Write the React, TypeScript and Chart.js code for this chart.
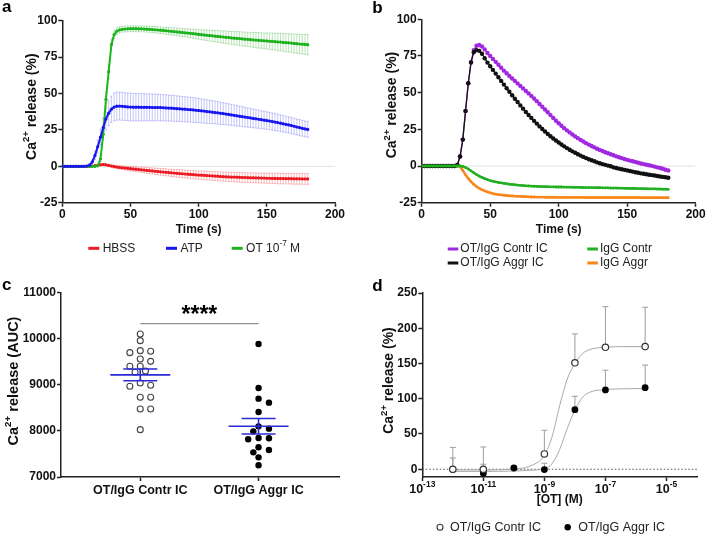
import React, { useEffect, useRef } from "react";
import { Chart, registerables } from "chart.js";

Chart.register(...registerables);

const FONT = "'Liberation Sans', Arial, Helvetica, sans-serif";
Chart.defaults.font.family = FONT;
Chart.defaults.color = "#111";

// ---------------- DATA ----------------
// Panels a & b: time axis (s)
const timeS = [
  0, 2, 4, 6, 8, 10, 12, 14, 16, 18,
  20, 22, 24, 26, 28, 30, 32, 34, 36, 38,
  40, 42, 44, 46, 48, 50, 52, 54, 56, 58,
  60, 62, 64, 66, 68, 70, 72, 74, 76, 78,
  80, 82, 84, 86, 88, 90, 92, 94, 96, 98,
  100, 102, 104, 106, 108, 110, 112, 114, 116, 118,
  120, 122, 124, 126, 128, 130, 132, 134, 136, 138,
  140, 142, 144, 146, 148, 150, 152, 154, 156, 158,
  160, 162, 164, 166, 168, 170, 172, 174, 176, 178,
  180,
];

const seriesNamesA = ["HBSS", "ATP", "OT 10-7 M"];

const hbss = [
  0, 0, 0, 0, 0, 0, 0, 0, 0, 0,
  0.1, 0.2, 0.4, 0.7, 1.0, 1.2, 1.0, 0.6, 0.2, -0.2,
  -0.5, -0.8, -1.0, -1.2, -1.4, -1.6, -1.8, -2.0, -2.2, -2.4,
  -2.6, -2.8, -3.0, -3.2, -3.4, -3.6, -3.8, -3.9, -4.1, -4.3,
  -4.5, -4.6, -4.8, -5.0, -5.1, -5.3, -5.4, -5.6, -5.7, -5.9,
  -6.0, -6.1, -6.2, -6.4, -6.5, -6.6, -6.7, -6.8, -7.0, -7.1,
  -7.2, -7.3, -7.4, -7.4, -7.5, -7.6, -7.7, -7.7, -7.8, -7.9,
  -7.9, -8.0, -8.0, -8.1, -8.1, -8.2, -8.2, -8.3, -8.3, -8.4,
  -8.4, -8.4, -8.5, -8.5, -8.5, -8.6, -8.6, -8.6, -8.7, -8.7,
  -8.7,
];
const hbssSem = [
  0.3, 0.3, 0.3, 0.3, 0.3, 0.3, 0.3, 0.3, 0.3, 0.3,
  0.3, 0.3, 0.4, 0.5, 0.6, 0.6, 0.7, 0.8, 0.9, 1.0,
  1.0, 1.1, 1.2, 1.3, 1.4, 1.5, 1.6, 1.7, 1.7, 1.8,
  1.9, 2.0, 2.0, 2.1, 2.2, 2.2, 2.3, 2.3, 2.4, 2.4,
  2.5, 2.5, 2.6, 2.6, 2.7, 2.7, 2.7, 2.8, 2.8, 2.8,
  2.9, 2.9, 2.9, 3.0, 3.0, 3.0, 3.0, 3.1, 3.1, 3.1,
  3.1, 3.2, 3.2, 3.2, 3.2, 3.3, 3.3, 3.3, 3.3, 3.4,
  3.4, 3.4, 3.4, 3.4, 3.5, 3.5, 3.5, 3.5, 3.5, 3.6,
  3.6, 3.6, 3.6, 3.6, 3.7, 3.7, 3.7, 3.7, 3.7, 3.7,
  3.7,
];
const atp = [
  0, 0, 0, 0, 0, 0, 0, 0, 0, 0.2,
  0.8, 3.0, 7.5, 13.5, 20.0, 26.5, 32.5, 36.5, 39.2, 40.7,
  41.3, 41.4, 41.2, 41.0, 40.8, 40.7, 40.6, 40.6, 40.6, 40.5,
  40.5, 40.5, 40.5, 40.4, 40.4, 40.4, 40.3, 40.2, 40.1, 40.0,
  39.9, 39.8, 39.6, 39.5, 39.3, 39.2, 39.0, 38.9, 38.7, 38.5,
  38.3, 38.1, 37.9, 37.6, 37.4, 37.2, 36.9, 36.7, 36.4, 36.2,
  35.9, 35.6, 35.3, 35.0, 34.7, 34.4, 34.1, 33.8, 33.5, 33.2,
  32.9, 32.6, 32.3, 32.0, 31.7, 31.4, 31.1, 30.7, 30.4, 30.0,
  29.6, 29.2, 28.8, 28.4, 28.0, 27.5, 27.0, 26.6, 26.1, 25.7,
  25.3,
];
const atpSem = [
  0.3, 0.3, 0.3, 0.3, 0.3, 0.3, 0.3, 0.3, 0.3, 0.5,
  1.0, 2.0, 3.0, 4.5, 5.5, 6.5, 7.5, 8.5, 9.0, 9.5,
  9.6, 9.6, 9.6, 9.5, 9.5, 9.5, 9.5, 9.4, 9.4, 9.4,
  9.3, 9.3, 9.3, 9.2, 9.2, 9.1, 9.1, 9.0, 9.0, 8.9,
  8.9, 8.8, 8.8, 8.7, 8.7, 8.6, 8.6, 8.5, 8.5, 8.4,
  8.4, 8.3, 8.2, 8.1, 8.0, 7.9, 7.8, 7.7, 7.6, 7.5,
  7.4, 7.3, 7.2, 7.1, 7.0, 6.9, 6.8, 6.7, 6.6, 6.5,
  6.4, 6.3, 6.2, 6.1, 6.0, 6.0, 5.9, 5.9, 5.8, 5.8,
  5.7, 5.7, 5.6, 5.6, 5.6, 5.5, 5.5, 5.5, 5.4, 5.4,
  5.4,
];
const ot = [
  0, 0, 0, 0, 0, 0, 0, 0, 0, 0,
  0, 0, 0, 0.3, 5.0, 22.0, 46.0, 65.0, 83.5, 90.5,
  92.8, 93.7, 94.1, 94.3, 94.4, 94.5, 94.5, 94.5, 94.4, 94.4,
  94.3, 94.2, 94.1, 93.9, 93.8, 93.6, 93.5, 93.3, 93.1, 92.9,
  92.7, 92.5, 92.3, 92.1, 91.9, 91.7, 91.5, 91.3, 91.1, 90.9,
  90.6, 90.4, 90.2, 90.0, 89.8, 89.6, 89.4, 89.2, 89.0, 88.8,
  88.6, 88.4, 88.2, 88.0, 87.9, 87.7, 87.5, 87.3, 87.2, 87.0,
  86.8, 86.7, 86.5, 86.4, 86.2, 86.1, 85.9, 85.8, 85.6, 85.4,
  85.3, 85.1, 84.9, 84.8, 84.6, 84.4, 84.2, 84.0, 83.9, 83.7,
  83.5,
];
const otSem = [
  0.3, 0.3, 0.3, 0.3, 0.3, 0.3, 0.3, 0.3, 0.3, 0.3,
  0.3, 0.3, 0.3, 0.5, 2.0, 4.0, 5.0, 5.0, 4.0, 3.0,
  2.5, 2.2, 2.0, 2.0, 2.0, 2.0, 2.0, 2.0, 2.0, 2.0,
  2.0, 2.0, 2.1, 2.1, 2.2, 2.2, 2.3, 2.3, 2.4, 2.4,
  2.5, 2.5, 2.6, 2.7, 2.8, 2.8, 2.9, 3.0, 3.1, 3.2,
  3.3, 3.4, 3.5, 3.6, 3.7, 3.8, 3.9, 4.0, 4.1, 4.2,
  4.3, 4.3, 4.4, 4.5, 4.6, 4.7, 4.8, 4.8, 4.9, 5.0,
  5.1, 5.2, 5.3, 5.3, 5.4, 5.5, 5.6, 5.7, 5.8, 5.9,
  6.0, 6.1, 6.2, 6.3, 6.4, 6.5, 6.5, 6.6, 6.7, 6.8,
  6.9,
];

// Panel b
const seriesNamesB = ["OT/IgG Contr IC", "OT/IgG Aggr IC", "IgG Contr", "IgG Aggr"];
const otIgGContr = [
  0, 0, 0, 0, 0, 0, 0, 0, 0, 0,
  0, 0, 0, 0.7, 6.5, 18.0, 37.5, 56.4, 71.0, 79.0,
  82.0, 82.5, 81.5, 79.5, 77.0, 75.0, 73.0, 71.0, 69.0, 67.0,
  65.0, 63.2, 61.4, 59.7, 58.0, 56.3, 54.6, 52.9, 51.2, 49.5,
  47.8, 46.0, 44.2, 42.3, 40.4, 38.5, 36.6, 34.7, 32.8, 30.9,
  29.1, 27.4, 25.8, 24.3, 22.9, 21.5, 20.2, 19.0, 17.8, 16.7,
  15.6, 14.6, 13.6, 12.7, 11.8, 11.0, 10.2, 9.4, 8.7, 8.0,
  7.3, 6.6, 6.0, 5.4, 4.8, 4.2, 3.7, 3.2, 2.7, 2.2,
  1.7, 1.3, 0.9, 0.5, 0.1, -0.4, -0.9, -1.4, -1.9, -2.5,
  -3.1,
];
const otIgGAggr = [
  0, 0, 0, 0, 0, 0, 0, 0, 0, 0,
  0, 0, 0, 0.7, 6.5, 18.0, 37.5, 56.4, 70.5, 77.5,
  79.0, 78.5, 76.5, 73.5, 70.5, 68.0, 65.5, 63.0, 60.5, 58.0,
  55.5, 53.0, 50.6, 48.2, 45.9, 43.6, 41.3, 39.1, 36.9, 34.8,
  32.8, 30.8, 28.9, 27.0, 25.2, 23.5, 21.9, 20.3, 18.8, 17.4,
  16.0, 14.7, 13.4, 12.2, 11.1, 10.0, 9.0, 8.0, 7.1, 6.2,
  5.4, 4.6, 3.9, 3.2, 2.5, 1.9, 1.3, 0.8, 0.3, -0.2,
  -0.9, -1.4, -1.8, -2.2, -2.6, -3.0, -3.4, -3.8, -4.2, -4.6,
  -5.0, -5.3, -5.6, -5.9, -6.2, -6.5, -6.8, -7.1, -7.4, -7.7,
  -8.0,
];
const igGContr = [
  0, 0, 0, 0, 0, 0, 0, 0, 0, 0,
  0, 0, 0, 0, 0, -0.3, -1.0, -2.0, -3.3, -4.6,
  -5.8, -6.9, -7.8, -8.6, -9.3, -9.9, -10.4, -10.8, -11.2, -11.5,
  -11.8, -12.1, -12.4, -12.6, -12.8, -13.0, -13.2, -13.3, -13.5, -13.6,
  -13.7, -13.8, -13.9, -14.0, -14.0, -14.1, -14.1, -14.2, -14.2, -14.3,
  -14.3, -14.3, -14.4, -14.4, -14.4, -14.5, -14.5, -14.5, -14.6, -14.6,
  -14.7, -14.7, -14.7, -14.8, -14.8, -14.8, -14.9, -14.9, -14.9, -15.0,
  -15.0, -15.0, -15.1, -15.1, -15.2, -15.2, -15.3, -15.3, -15.3, -15.4,
  -15.4, -15.5, -15.5, -15.6, -15.6, -15.6, -15.7, -15.7, -15.8, -15.8,
  -15.9,
];
const igGAggr = [
  0, 0, 0, 0, 0, 0, 0, 0, 0, 0,
  0, 0, 0, 0, -0.5, -3.0, -6.0, -8.5, -10.7, -12.5,
  -14.0, -15.2, -16.2, -17.0, -17.7, -18.3, -18.8, -19.2, -19.5, -19.7,
  -19.9, -20.1, -20.3, -20.4, -20.5, -20.6, -20.7, -20.8, -20.9, -21.0,
  -21.1, -21.1, -21.2, -21.2, -21.2, -21.3, -21.3, -21.3, -21.3, -21.4,
  -21.4, -21.4, -21.4, -21.4, -21.4, -21.4, -21.4, -21.4, -21.4, -21.4,
  -21.5, -21.5, -21.5, -21.5, -21.5, -21.5, -21.5, -21.5, -21.5, -21.5,
  -21.5, -21.5, -21.5, -21.5, -21.5, -21.5, -21.5, -21.5, -21.5, -21.5,
  -21.6, -21.6, -21.6, -21.6, -21.6, -21.6, -21.6, -21.6, -21.6, -21.6,
  -21.6,
];

// Panel c
const cCategories = ["OT/IgG Contr IC", "OT/IgG Aggr IC"];
const aucContr = [10097, 9953, 9736, 9693, 9722, 9556, 9505, 9397, 9397, 9267, 9296, 9036, 8964, 8986, 8726, 8726, 8473, 8473, 8025];
const aucAggr = [9881, 8928, 8610, 8697, 8408, 7989, 8047, 8097, 7845, 7816, 7838, 7585, 7643, 7534, 7426, 7253];
const sigBarValue = 10320;
const sigLabel = "****";

// Panel d
const seriesNamesD = ["OT/IgG Contr IC", "OT/IgG Aggr IC"];
const contrConc = [1e-12, 1e-11, 1e-9, 1e-8, 1e-7, 2e-6];
const contrResp = [0, 0, 21.7, 151, 173, 174];
const contrSem = [31, 31.6, 33.6, 41, 57.6, 55.7];
const aggrConc = [1e-12, 1e-11, 1e-10, 1e-9, 1e-8, 1e-7, 2e-6];
const aggrResp = [-0.5, -5.7, 1.8, -0.5, 84.5, 112.5, 115.7];
const aggrSem = [16.5, 12.8, 2, 9, 19, 28, 32];
const fitConc = [1e-12, 1e-11, 1e-10, 3.16e-10, 1e-9, 1.78e-9, 3.16e-9, 5.62e-9, 1e-8, 1.78e-8, 3.16e-8, 1e-7, 3.16e-7, 2e-6];
const contrFit = [-1, -1, 0.5, 4, 20, 46, 90, 128, 150, 164, 170, 173, 174, 174];
const aggrFit = [-3, -3, -2.5, -1.5, 1, 8, 28, 58, 84, 102, 109.5, 113, 114, 114.5];
const dXTicks = [1e-13, 1e-11, 1e-9, 1e-7, 1e-5];
const dYTicks = [0, 50, 100, 150, 200, 250];

// ---------------- STYLE ----------------
const RED = "#ec1c24";
const BLUE = "#1717ee";
const GREEN_A = "#1db31d";
const PURPLE = "#a228e0";
const BLACK = "#111111";
const GREEN_B = "#22b022";
const ORANGE = "#fa8519";
const AXIS = "#222";
const MEAN_BLUE = "#2a2ad8";
const TICK_SIZE = 12;

type Seg = { t: string; sup?: boolean };

function drawRich(ctx: any, segs: Seg[], x: number, y: number, size: number, weight: string, align: string, rotate = 0, color = "#111") {
  ctx.save();
  ctx.translate(x, y);
  if (rotate) ctx.rotate(rotate);
  const supSize = size * 0.68;
  const widths = segs.map((s) => {
    ctx.font = `${weight} ${s.sup ? supSize : size}px ${FONT}`;
    return ctx.measureText(s.t).width;
  });
  const total = widths.reduce((a, b) => a + b, 0);
  let cx = align === "center" ? -total / 2 : 0;
  ctx.fillStyle = color;
  ctx.textBaseline = "middle";
  ctx.textAlign = "left";
  segs.forEach((s, i) => {
    ctx.font = `${weight} ${s.sup ? supSize : size}px ${FONT}`;
    ctx.fillText(s.t, cx, s.sup ? -size * 0.36 : 0);
    cx += widths[i];
  });
  ctx.restore();
}

function panelLabel(ctx: any, t: string, x: number, baseline: number) {
  ctx.save();
  ctx.font = `bold 17px ${FONT}`;
  ctx.fillStyle = "#000";
  ctx.textBaseline = "alphabetic";
  ctx.textAlign = "left";
  ctx.fillText(t, x, baseline);
  ctx.restore();
}

function legendLine(ctx: any, x1: number, x2: number, y: number, color: string) {
  ctx.save();
  ctx.strokeStyle = color;
  ctx.lineWidth = 3;
  ctx.beginPath();
  ctx.moveTo(x1, y);
  ctx.lineTo(x2, y);
  ctx.stroke();
  ctx.restore();
}

function labelSegs(name: string): Seg[] {
  const m = name.match(/^(.*10)(-\d+)(.*)$/);
  if (m) return [{ t: m[1] }, { t: m[2], sup: true }, { t: m[3] }];
  return [{ t: name }];
}

const caTitle = (unit: string): Seg[] => [{ t: "Ca" }, { t: "2+", sup: true }, { t: ` release (${unit})` }];

const errorBarsPlugin = {
  id: "errorBars",
  beforeDatasetsDraw(chart: any) {
    const { ctx, scales } = chart;
    const xs = scales.x;
    const ys = scales.y;
    chart.data.datasets.forEach((ds: any) => {
      if (!ds.errors) return;
      ctx.save();
      ctx.strokeStyle = ds.errorColor;
      ctx.lineWidth = ds.errorWidth ?? 1;
      const cap = ds.errorCap ?? 1.5;
      ds.data.forEach((p: any, i: number) => {
        const e = ds.errors[i];
        const px = xs.getPixelForValue(p.x);
        const top = ys.getPixelForValue(p.y + e);
        const bot = ds.errorUpOnly ? ys.getPixelForValue(p.y) : ys.getPixelForValue(p.y - e);
        ctx.beginPath();
        ctx.moveTo(px, top);
        ctx.lineTo(px, bot);
        ctx.moveTo(px - cap, top);
        ctx.lineTo(px + cap, top);
        if (!ds.errorUpOnly) {
          ctx.moveTo(px - cap, bot);
          ctx.lineTo(px + cap, bot);
        }
        ctx.stroke();
      });
      ctx.restore();
    });
  },
};

function zeroLine(color: string, dash: number[], width: number) {
  return {
    id: "zeroLine",
    beforeDatasetsDraw(chart: any) {
      const { ctx, chartArea, scales } = chart;
      const py = scales.y.getPixelForValue(0);
      ctx.save();
      ctx.strokeStyle = color;
      ctx.setLineDash(dash);
      ctx.lineWidth = width;
      ctx.beginPath();
      ctx.moveTo(chartArea.left, py);
      ctx.lineTo(chartArea.right, py);
      ctx.stroke();
      ctx.restore();
    },
  };
}

function decor(fn: (ctx: any, chart: any) => void) {
  return {
    id: "decor",
    afterDraw(chart: any) {
      fn(chart.ctx, chart);
    },
  };
}

function axis(extra: any) {
  const base: any = {
    grid: { drawOnChartArea: false, tickLength: 4, tickColor: AXIS, tickWidth: 1.5 },
    border: { color: AXIS, width: 1.5 },
    ticks: {
      color: "#111",
      font: { size: TICK_SIZE, weight: "bold", family: FONT },
      padding: 1,
      maxRotation: 0,
      autoSkip: false,
      callback: (v: any) => String(v),
    },
    title: { display: false },
  };
  return { ...base, ...extra, ticks: { ...base.ticks, ...(extra.ticks || {}) }, grid: { ...base.grid, ...(extra.grid || {}) } };
}

const baseOptions = (padding: any) => ({
  animation: false,
  responsive: false,
  events: [],
  layout: { padding },
  plugins: { legend: { display: false }, tooltip: { enabled: false } },
});

const mean = (a: number[]) => a.reduce((s, v) => s + v, 0) / a.length;
const semOf = (a: number[]) => {
  const m = mean(a);
  const sd = Math.sqrt(a.reduce((s, v) => s + (v - m) * (v - m), 0) / (a.length - 1));
  return sd / Math.sqrt(a.length);
};

// ---------------- PANELS ----------------
function makeA(cv: HTMLCanvasElement) {
  const mk = (label: string, vals: number[], sem: number[], color: string, errColor: string, order: number) => ({
    label,
    data: timeS.map((t, i) => ({ x: t, y: vals[i] })),
    borderColor: color,
    backgroundColor: color,
    pointBackgroundColor: color,
    borderWidth: 2,
    pointRadius: 1.6,
    pointBorderWidth: 0,
    errors: sem,
    errorColor: errColor,
    errorWidth: 0.8,
    errorCap: 1.2,
    order,
  });
  const colors = [RED, BLUE, GREEN_A];
  return new Chart(cv, {
    type: "line",
    data: {
      datasets: [
        mk(seriesNamesA[0], hbss, hbssSem, RED, "rgba(236,40,40,0.38)", 2),
        mk(seriesNamesA[1], atp, atpSem, BLUE, "rgba(40,40,235,0.33)", 0),
        mk(seriesNamesA[2], ot, otSem, GREEN_A, "rgba(30,170,30,0.38)", 1),
      ] as any,
    },
    options: {
      ...baseOptions({ left: 0, top: 20.7, right: 19, bottom: 45.3 }),
      scales: {
        x: axis({ type: "linear", min: 0, max: 200, ticks: { stepSize: 50 }, afterFit: (s: any) => { s.height = 20; } }),
        y: axis({ type: "linear", min: -25, max: 100, ticks: { stepSize: 25 }, afterFit: (s: any) => { s.width = 62.3; } }),
      },
    } as any,
    plugins: [
      zeroLine("#c4c4c4", [1, 1], 1),
      errorBarsPlugin,
      decor((ctx, chart) => {
        const ca = chart.chartArea;
        panelLabel(ctx, "a", 2, 11.7);
        drawRich(ctx, caTitle("%"), 31.7, 106.7, 14, "bold", "center", -Math.PI / 2);
        drawRich(ctx, [{ t: "Time (s)" }], (ca.left + ca.right) / 2, 230, 12, "bold", "center");
        const lx = [88.3, 166, 231.7];
        seriesNamesA.forEach((n, i) => {
          legendLine(ctx, lx[i], lx[i] + 11, 248.3, colors[i]);
          drawRich(ctx, labelSegs(n), lx[i] + 14.4, 248.3, 12, "normal", "left", 0, "#222");
        });
      }),
    ],
  });
}

function makeB(cv: HTMLCanvasElement) {
  const mk = (label: string, vals: number[], color: string, bw: number, pr: number, order: number) => ({
    label,
    data: timeS.map((t, i) => ({ x: t, y: vals[i] })),
    borderColor: color,
    backgroundColor: color,
    pointBackgroundColor: color,
    borderWidth: bw,
    pointRadius: pr,
    pointBorderWidth: 0,
    order,
  });
  const colors = [PURPLE, BLACK, GREEN_B, ORANGE];
  return new Chart(cv, {
    type: "line",
    data: {
      datasets: [
        mk(seriesNamesB[0], otIgGContr, PURPLE, 1.3, 2.2, 2),
        mk(seriesNamesB[1], otIgGAggr, BLACK, 1.3, 2.2, 1),
        mk(seriesNamesB[2], igGContr, GREEN_B, 2.4, 1.4, 0),
        mk(seriesNamesB[3], igGAggr, ORANGE, 2.4, 1.4, 3),
      ] as any,
    },
    options: {
      ...baseOptions({ left: 0, top: 19.3, right: 12.3, bottom: 59.3 }),
      scales: {
        x: axis({ type: "linear", min: 0, max: 200, ticks: { stepSize: 50 }, afterFit: (s: any) => { s.height = 20; } }),
        y: axis({ type: "linear", min: -25, max: 100, ticks: { stepSize: 25 }, afterFit: (s: any) => { s.width = 67.7; } }),
      },
    } as any,
    plugins: [
      zeroLine("#c4c4c4", [1, 1], 1),
      decor((ctx, chart) => {
        const ca = chart.chartArea;
        panelLabel(ctx, "b", 18.3, 13.3);
        drawRich(ctx, caTitle("%"), 38.3, 105, 14, "bold", "center", -Math.PI / 2);
        drawRich(ctx, [{ t: "Time (s)" }], (ca.left + ca.right) / 2, 230, 12, "bold", "center");
        const pos = [
          [93.7, 249],
          [93.7, 263],
          [233.3, 249],
          [233.3, 263],
        ];
        seriesNamesB.forEach((n, i) => {
          legendLine(ctx, pos[i][0], pos[i][0] + 10.6, pos[i][1], colors[i]);
          drawRich(ctx, labelSegs(n), pos[i][0] + 12.6, pos[i][1], 12, "normal", "left", 0, "#222");
        });
      }),
    ],
  });
}

function swarmOffsets(vals: number[], yPix: (v: number) => number, step: number, diam: number) {
  const idx = vals.map((_, i) => i).sort((a, b) => vals[b] - vals[a]);
  const placed: { x: number; y: number }[] = [];
  const out = new Array(vals.length).fill(0);
  for (const i of idx) {
    const py = yPix(vals[i]);
    for (let k = 0; k < 30; k++) {
      const n = Math.ceil(k / 2);
      const cand = k === 0 ? 0 : (k % 2 === 1 ? n : -n) * step;
      if (placed.every((p) => Math.hypot(p.x - cand, p.y - py) >= diam)) {
        out[i] = cand;
        placed.push({ x: cand, y: py });
        break;
      }
    }
  }
  return out;
}

function makeC(cv: HTMLCanvasElement) {
  const groups = [aucContr, aucAggr];
  const chart = new Chart(cv, {
    type: "scatter",
    data: {
      datasets: [
        {
          label: cCategories[0],
          data: aucContr.map((v) => ({ x: 1, y: v })),
          pointRadius: 3,
          pointBackgroundColor: "#ffffff",
          pointBorderColor: "#444",
          pointBorderWidth: 1.1,
        },
        {
          label: cCategories[1],
          data: aucAggr.map((v) => ({ x: 2, y: v })),
          pointRadius: 3.2,
          pointBackgroundColor: "#000",
          pointBorderColor: "#000",
          pointBorderWidth: 0,
        },
      ] as any,
    },
    options: {
      ...baseOptions({ left: 0, top: 24.3, right: 15, bottom: 39 }),
      scales: {
        x: axis({
          type: "linear",
          min: 0.33,
          max: 2.68,
          afterBuildTicks: (s: any) => { s.ticks = [{ value: 1 }, { value: 2 }]; },
          ticks: { font: { size: 12.5, weight: "bold", family: FONT }, padding: 2, callback: (v: any) => cCategories[Math.round(v) - 1] ?? "" },
          afterFit: (s: any) => { s.height = 20; },
        }),
        y: axis({ type: "linear", min: 7000, max: 11000, ticks: { stepSize: 1000 }, afterFit: (s: any) => { s.width = 61; } }),
      },
    } as any,
    plugins: [
      decor((ctx, ch) => {
        const xs = ch.scales.x;
        const ys = ch.scales.y;
        panelLabel(ctx, "c", 2, 21.7);
        drawRich(ctx, caTitle("AUC"), 13.7, 113, 14.5, "bold", "center", -Math.PI / 2);
        ctx.save();
        ctx.strokeStyle = MEAN_BLUE;
        ctx.lineWidth = 1.6;
        groups.forEach((vals, gi) => {
          const m = mean(vals);
          const e = semOf(vals);
          const xc = xs.getPixelForValue(gi + 1);
          const ym = ys.getPixelForValue(m);
          const yt = ys.getPixelForValue(m + e);
          const yb = ys.getPixelForValue(m - e);
          ctx.beginPath();
          ctx.moveTo(xc - 30, ym);
          ctx.lineTo(xc + 30, ym);
          ctx.moveTo(xc, yt);
          ctx.lineTo(xc, yb);
          ctx.moveTo(xc - 17, yt);
          ctx.lineTo(xc + 17, yt);
          ctx.moveTo(xc - 17, yb);
          ctx.lineTo(xc + 17, yb);
          ctx.stroke();
        });
        ctx.restore();
        const x1 = xs.getPixelForValue(1);
        const x2 = xs.getPixelForValue(2);
        const sy = ys.getPixelForValue(sigBarValue);
        ctx.save();
        ctx.strokeStyle = "#777";
        ctx.lineWidth = 1;
        ctx.beginPath();
        ctx.moveTo(x1, sy);
        ctx.lineTo(x2, sy);
        ctx.stroke();
        ctx.restore();
        drawRich(ctx, [{ t: sigLabel }], (x1 + x2) / 2, sy - 7.6, 23, "bold", "center", 0, "#000");
      }),
    ],
  });
  const xs: any = chart.scales.x;
  const ys: any = chart.scales.y;
  const pxPerX = xs.getPixelForValue(1) - xs.getPixelForValue(0);
  groups.forEach((vals, gi) => {
    const offs = swarmOffsets(vals, (v) => ys.getPixelForValue(v), 5.2, 6.6);
    (chart.data.datasets[gi] as any).data = vals.map((v, i) => ({ x: gi + 1 + offs[i] / pxPerX, y: v }));
  });
  chart.update();
  return chart;
}

function makeD(cv: HTMLCanvasElement) {
  return new Chart(cv, {
    type: "line",
    data: {
      datasets: [
        {
          label: "fit contr",
          data: fitConc.map((c, i) => ({ x: c, y: contrFit[i] })),
          borderColor: "#a8a8a8",
          borderWidth: 1,
          pointRadius: 0,
          cubicInterpolationMode: "monotone",
          order: 5,
        },
        {
          label: "fit aggr",
          data: fitConc.map((c, i) => ({ x: c, y: aggrFit[i] })),
          borderColor: "#a8a8a8",
          borderWidth: 1,
          pointRadius: 0,
          cubicInterpolationMode: "monotone",
          order: 6,
        },
        {
          label: seriesNamesD[1],
          data: aggrConc.map((c, i) => ({ x: c, y: aggrResp[i] })),
          showLine: false,
          pointRadius: 3.4,
          pointBackgroundColor: "#000",
          pointBorderColor: "#000",
          pointBorderWidth: 0,
          errors: aggrSem,
          errorUpOnly: true,
          errorColor: "#9c9c9c",
          errorWidth: 1,
          errorCap: 3,
          order: 1,
        },
        {
          label: seriesNamesD[0],
          data: contrConc.map((c, i) => ({ x: c, y: contrResp[i] })),
          showLine: false,
          pointRadius: 3.2,
          pointBackgroundColor: "#fff",
          pointBorderColor: "#333",
          pointBorderWidth: 1.2,
          errors: contrSem,
          errorUpOnly: true,
          errorColor: "#9c9c9c",
          errorWidth: 1,
          errorCap: 3,
          order: 0,
        },
      ] as any,
    },
    options: {
      ...baseOptions({ left: 0, top: 25, right: 11, bottom: 39 }),
      scales: {
        x: axis({
          type: "logarithmic",
          min: 1e-13,
          max: 1e-4,
          afterBuildTicks: (s: any) => { s.ticks = dXTicks.map((v) => ({ value: v })); },
          ticks: { display: false },
          afterFit: (s: any) => { s.height = 20; },
        }),
        y: axis({
          type: "linear",
          min: -11,
          max: 250,
          afterBuildTicks: (s: any) => { s.ticks = dYTicks.map((v) => ({ value: v })); },
          afterFit: (s: any) => { s.width = 68.3; },
        }),
      },
    } as any,
    plugins: [
      zeroLine("#555", [1.5, 2], 1),
      errorBarsPlugin,
      decor((ctx, chart) => {
        const ca = chart.chartArea;
        const xs = chart.scales.x;
        panelLabel(ctx, "d", 18.3, 23.3);
        drawRich(ctx, caTitle("%"), 35, 112.5, 14, "bold", "center", -Math.PI / 2);
        dXTicks.forEach((v) => {
          const exp = Math.round(Math.log10(v));
          drawRich(ctx, [{ t: "10" }, { t: String(exp), sup: true }], xs.getPixelForValue(v), 221.2, 12.5, "bold", "center");
        });
        drawRich(ctx, [{ t: "[OT] (M)" }], (ca.left + ca.right) / 2, 232, 12, "bold", "center");
        const ly = 259.3;
        ctx.save();
        ctx.beginPath();
        ctx.arc(86, ly, 3, 0, Math.PI * 2);
        ctx.fillStyle = "#fff";
        ctx.fill();
        ctx.strokeStyle = "#333";
        ctx.lineWidth = 1.1;
        ctx.stroke();
        ctx.beginPath();
        ctx.arc(213.7, ly, 3.2, 0, Math.PI * 2);
        ctx.fillStyle = "#000";
        ctx.fill();
        ctx.restore();
        drawRich(ctx, [{ t: seriesNamesD[0] }], 96, ly, 12.5, "normal", "left", 0, "#222");
        drawRich(ctx, [{ t: seriesNamesD[1] }], 224.3, ly, 12.5, "normal", "left", 0, "#222");
      }),
    ],
  });
}

export default function App() {
  const refA = useRef<HTMLCanvasElement>(null);
  const refB = useRef<HTMLCanvasElement>(null);
  const refC = useRef<HTMLCanvasElement>(null);
  const refD = useRef<HTMLCanvasElement>(null);

  useEffect(() => {
    const charts = [makeA(refA.current!), makeB(refB.current!), makeC(refC.current!), makeD(refD.current!)];
    return () => charts.forEach((c) => c.destroy());
  }, []);

  const cs = (left: number, top: number, w: number, h: number): any => ({ position: "absolute", left, top, width: w, height: h });

  return (
    <div style={{ position: "absolute", left: 0, top: 0, width: 708, height: 536, background: "#fff", overflow: "hidden" }}>
      <canvas ref={refA} width={354} height={268} style={cs(0, 0, 354, 268)} />
      <canvas ref={refB} width={354} height={282} style={cs(354, 0, 354, 282)} />
      <canvas ref={refC} width={354} height={268} style={cs(0, 268, 354, 268)} />
      <canvas ref={refD} width={354} height={268} style={cs(354, 268, 354, 268)} />
    </div>
  );
}
